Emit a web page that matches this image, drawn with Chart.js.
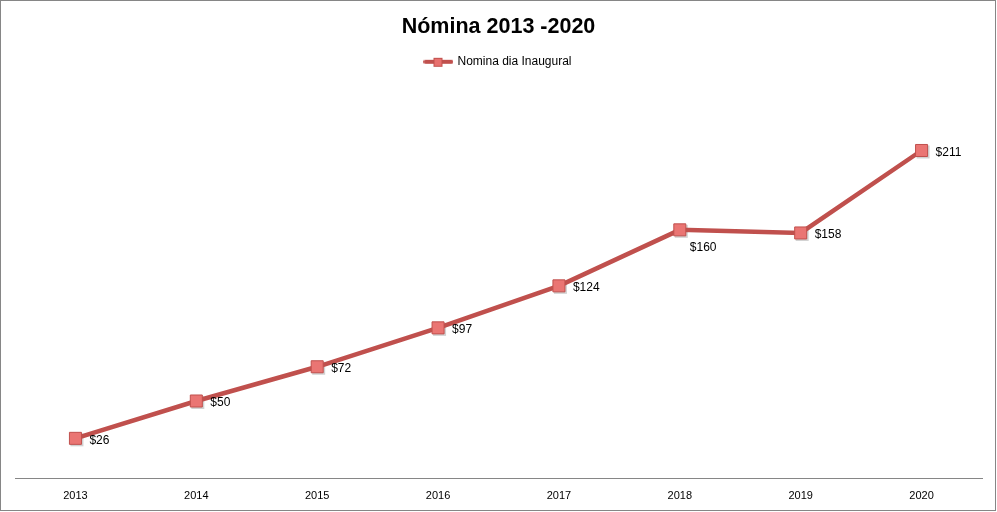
<!DOCTYPE html>
<html lang="es">
<head>
    <meta charset="UTF-8">
    <title>Nómina 2013 -2020</title>
    <script src="https://cdn.jsdelivr.net/npm/chart.js"></script>
    <style>
        body {
            margin: 0;
            padding: 0;
            background: #fff;
        }
        #wrap {
            width: 997px;
            height: 512px;
        }
    </style>
</head>
<body>

<div id="wrap">
    <canvas id="myChart" width="997" height="512"></canvas>
</div>

<script>
// datos
const years = ['2013', '2014', '2015', '2016', '2017', '2018', '2019', '2020'];
const nomina = [26, 50, 72, 97, 124, 160, 158, 211];
const seriesName = 'Nomina dia Inaugural';
// donde va cada etiqueta respecto al punto
const labelPos = ['right', 'right', 'right', 'right', 'right', 'below', 'right', 'right'];

const lineColor = '#C0504D';
const font = '"Liberation Sans", Arial, sans-serif';

// icono de la leyenda: linea + cuadrado
const legendIcon = document.createElement('canvas');
legendIcon.width = 30;
legendIcon.height = 12;
(function () {
    const c = legendIcon.getContext('2d');
    c.strokeStyle = lineColor;
    c.lineWidth = 4;
    c.lineCap = 'round';
    c.beginPath();
    c.moveTo(2, 6);
    c.lineTo(28, 6);
    c.stroke();
    c.fillStyle = '#E8706E';
    c.fillRect(10.5, 2.5, 8, 8);
    c.strokeStyle = lineColor;
    c.lineWidth = 1;
    c.strokeRect(10.5, 2.5, 8, 8);
})();

// fondo blanco y marco gris
const frame = {
    id: 'frame',
    beforeDraw(chart) {
        const c = chart.ctx;
        c.save();
        c.fillStyle = '#fff';
        c.fillRect(0, 0, chart.width, chart.height);
        c.restore();
    },
    afterDraw(chart) {
        const c = chart.ctx;
        c.save();
        c.strokeStyle = '#868686';
        c.lineWidth = 1;
        c.strokeRect(0.5, 0.5, chart.width - 2, chart.height - 2);
        c.restore();
    }
};

// etiquetas de valores
const valueLabels = {
    id: 'valueLabels',
    afterDatasetsDraw(chart) {
        const c = chart.ctx;
        const meta = chart.getDatasetMeta(0);
        c.save();
        c.font = '12px ' + font;
        c.fillStyle = '#000';
        c.textBaseline = 'middle';
        c.textAlign = 'left';
        meta.data.forEach((pt, i) => {
            const txt = '$' + nomina[i];
            if (labelPos[i] === 'below') {
                c.fillText(txt, pt.x + 10, pt.y + 18);
            } else {
                c.fillText(txt, pt.x + 14, pt.y + 2);
            }
        });
        c.restore();
    }
};

// pequeña sombra bajo los marcadores
const markerShadow = {
    id: 'markerShadow',
    beforeDatasetDraw(chart) {
        const c = chart.ctx;
        const meta = chart.getDatasetMeta(0);
        c.save();
        c.fillStyle = 'rgba(0,0,0,0.18)';
        meta.data.forEach(pt => {
            c.fillRect(pt.x - 5, pt.y - 5, 13, 13);
        });
        c.restore();
    }
};

const ctx = document.getElementById('myChart').getContext('2d');
const chart = new Chart(ctx, {
    type: 'line',
    data: {
        labels: years,
        datasets: [{
            label: seriesName,
            data: nomina,
            xAxisID: 'x',
            borderColor: lineColor,
            borderWidth: 4.5,
            tension: 0,
            pointStyle: 'rect',
            pointRadius: 8.5,
            pointHoverRadius: 8.5,
            pointBackgroundColor: '#EA7573',
            pointBorderColor: lineColor,
            pointBorderWidth: 1
        }]
    },
    options: {
        responsive: false,
        animation: false,
        layout: {
            padding: { left: 15, right: 15, top: 0, bottom: -2 }
        },
        scales: {
            x: {
                offset: true,
                grid: { display: false, drawTicks: false },
                border: { display: true, color: '#868686', width: 1 },
                ticks: {
                    padding: 11,
                    color: '#000',
                    font: { family: font, size: 11 }
                }
            },
            // espacio vacio entre la leyenda y el area del grafico
            xTop: {
                type: 'category',
                position: 'top',
                offset: true,
                grid: { display: false, drawTicks: false },
                border: { display: false },
                ticks: { display: false },
                afterFit: s => { s.height = 12; }
            },
            y: {
                display: false,
                min: 0,
                max: 250
            }
        },
        plugins: {
            title: {
                display: true,
                text: 'Nómina 2013 -2020',
                color: '#000',
                font: { family: font, size: 21.5, weight: 'bold' },
                padding: { top: 14, bottom: 6 }
            },
            legend: {
                display: true,
                position: 'top',
                labels: {
                    usePointStyle: true,
                    pointStyleWidth: 26,
                    color: '#000',
                    font: { family: font, size: 12 },
                    generateLabels: () => [{
                        text: seriesName,
                        pointStyle: legendIcon,
                        fillStyle: lineColor,
                        strokeStyle: lineColor,
                        lineWidth: 0,
                        hidden: false,
                        datasetIndex: 0
                    }]
                }
            },
            tooltip: { enabled: false }
        }
    },
    plugins: [frame, markerShadow, valueLabels]
});
</script>

</body>
</html>
